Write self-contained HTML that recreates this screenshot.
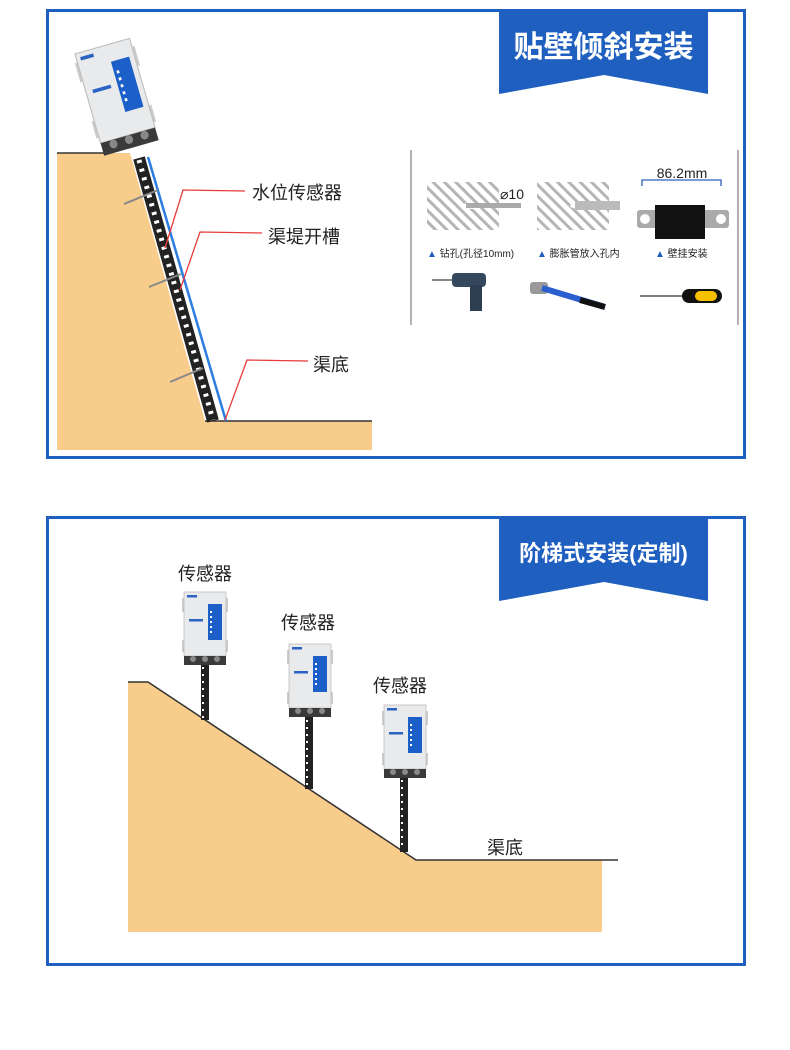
<!DOCTYPE html>
<html><head><meta charset="utf-8"><style>
html,body{margin:0;padding:0;background:#fff;}
svg{display:block;}
text{font-family:"Liberation Sans","Noto Sans CJK SC",sans-serif;}
</style></head><body>
<svg width="790" height="1050" viewBox="0 0 790 1050" xmlns="http://www.w3.org/2000/svg">
<defs>
<pattern id="hatch" width="8" height="8" patternUnits="userSpaceOnUse" patternTransform="rotate(-45)">
<rect width="8" height="8" fill="#fff"/><rect width="3" height="8" fill="#b5b5b5"/>
</pattern>
<g id="dev">
<rect x="-2" y="6" width="3" height="14" fill="#ccc"/><rect x="-2" y="48" width="3" height="12" fill="#ccc"/>
<rect x="41" y="6" width="3" height="14" fill="#ccc"/><rect x="41" y="48" width="3" height="12" fill="#ccc"/>
<rect x="0" y="0" width="42" height="64" fill="#e9eaeb" stroke="#bdbdbd" stroke-width="0.8"/>
<rect x="3" y="3" width="10" height="2.5" fill="#2a63c4"/>
<rect x="24" y="12" width="14" height="36" fill="#1c5fc9"/>
<rect x="26" y="19" width="2" height="2" fill="#fff"/><rect x="26" y="24" width="2" height="2" fill="#fff"/>
<rect x="26" y="29" width="2" height="2" fill="#fff"/><rect x="26" y="34" width="2" height="2" fill="#fff"/>
<rect x="26" y="39" width="2" height="2" fill="#fff"/>
<rect x="5" y="27" width="14" height="2.5" fill="#2a63c4"/>
<rect x="0" y="64" width="42" height="9" fill="#3a3a3a"/>
<circle cx="9" cy="67" r="3" fill="#888"/><circle cx="21" cy="67" r="3" fill="#888"/><circle cx="33" cy="67" r="3" fill="#888"/>
</g>
</defs>

<!-- Panel 1 -->
<rect x="47.5" y="10.5" width="697" height="447" fill="#fff" stroke="#1f5fbf" stroke-width="3"/>
<polygon points="57,153 130,153 205,421 372,421 372,450 57,450" fill="#f8cd8c"/>
<line x1="57" y1="153" x2="110" y2="153" stroke="#333" stroke-width="1.5"/>
<line x1="205" y1="421" x2="372" y2="421" stroke="#333" stroke-width="1.5"/>
<line x1="139" y1="158" x2="213" y2="421" stroke="#222" stroke-width="12"/>
<line x1="139" y1="160" x2="213" y2="420" stroke="#fff" stroke-width="5" stroke-dasharray="3 6"/>
<line x1="148" y1="157" x2="226" y2="421" stroke="#2b7de0" stroke-width="2.5"/>
<line x1="124" y1="204" x2="158" y2="190" stroke="#888" stroke-width="2"/>
<line x1="149" y1="287" x2="181" y2="274" stroke="#888" stroke-width="2"/>
<line x1="170" y1="382" x2="203" y2="368" stroke="#888" stroke-width="2"/>
<g transform="translate(75,54) rotate(-16) scale(1.35,1.45)"><use href="#dev"/></g>
<polyline points="165,248 183,190 245,191" fill="none" stroke="#e83b3b" stroke-width="1.3"/>
<polyline points="180,290 200,232 262,233" fill="none" stroke="#e83b3b" stroke-width="1.3"/>
<polyline points="225,420 247,360 308,361" fill="none" stroke="#e83b3b" stroke-width="1.3"/>
<text x="252" y="199" font-size="18" fill="#222">水位传感器</text>
<text x="268" y="243" font-size="18" fill="#222">渠堤开槽</text>
<text x="313" y="371" font-size="18" fill="#222">渠底</text>
<polygon points="499,10 708,10 708,94 604,75 499,94" fill="#1f5fbf"/>
<text x="603.5" y="57" font-size="30" font-weight="bold" fill="#fff" text-anchor="middle">贴壁倾斜安装</text>

<line x1="411" y1="150" x2="411" y2="325" stroke="#999" stroke-width="1.5"/>
<line x1="738" y1="150" x2="738" y2="325" stroke="#999" stroke-width="1.5"/>
<rect x="427" y="182" width="72" height="48" fill="url(#hatch)"/>
<rect x="537" y="182" width="72" height="48" fill="url(#hatch)"/>
<ellipse cx="472" cy="206" rx="12" ry="3" fill="#fff"/>
<rect x="466" y="203" width="55" height="5" fill="#aaa"/>
<text x="500" y="199" font-size="14" fill="#222">⌀10</text>
<ellipse cx="582" cy="206" rx="12" ry="3" fill="#fff"/>
<rect x="575" y="201" width="45" height="9" fill="#bbb"/>
<polyline points="642,186 642,180 721,180 721,186" fill="none" stroke="#2c5fbf" stroke-width="1.3"/>
<text x="682" y="178" font-size="14" fill="#222" text-anchor="middle">86.2mm</text>
<rect x="637" y="210" width="92" height="18" rx="3" fill="#aaa"/>
<circle cx="645" cy="219" r="5" fill="#fff"/><circle cx="721" cy="219" r="5" fill="#fff"/>
<rect x="655" y="205" width="50" height="34" fill="#111"/>
<text x="427" y="257" font-size="10" fill="#222"><tspan fill="#1f5fbf">▲</tspan> 钻孔(孔径10mm)</text>
<text x="537" y="257" font-size="10" fill="#222"><tspan fill="#1f5fbf">▲</tspan> 膨胀管放入孔内</text>
<text x="655" y="257" font-size="10" fill="#222"><tspan fill="#1f5fbf">▲</tspan> 壁挂安装</text>
<line x1="432" y1="280" x2="455" y2="280" stroke="#888" stroke-width="2"/>
<rect x="452" y="273" width="34" height="14" rx="4" fill="#34495e"/>
<rect x="470" y="285" width="12" height="26" fill="#2c3e50"/>
<rect x="530" y="282" width="18" height="12" rx="3" fill="#999"/>
<line x1="542" y1="288" x2="605" y2="307" stroke="#2b5fd0" stroke-width="6"/>
<line x1="580" y1="300" x2="605" y2="307" stroke="#111" stroke-width="6"/>
<line x1="640" y1="296" x2="685" y2="296" stroke="#555" stroke-width="1.5"/>
<rect x="682" y="289" width="40" height="14" rx="7" fill="#111"/>
<rect x="695" y="291" width="22" height="10" rx="5" fill="#f5c000"/>

<!-- Panel 2 -->
<rect x="47.5" y="517.5" width="697" height="447" fill="#fff" stroke="#1f5fbf" stroke-width="3"/>
<polygon points="128,682 148,682 416,860 602,860 602,932 128,932" fill="#f8cd8c"/>
<polyline points="128,682 148,682 416,860 618,860" fill="none" stroke="#333" stroke-width="1.5"/>
<line x1="205" y1="665" x2="205" y2="720" stroke="#222" stroke-width="8"/>
<line x1="203" y1="667" x2="203" y2="718" stroke="#fff" stroke-width="2" stroke-dasharray="2 5"/>
<line x1="309" y1="717" x2="309" y2="789" stroke="#222" stroke-width="8"/>
<line x1="307" y1="720" x2="307" y2="787" stroke="#fff" stroke-width="2" stroke-dasharray="2 5"/>
<line x1="404" y1="777" x2="404" y2="852" stroke="#222" stroke-width="8"/>
<line x1="402" y1="780" x2="402" y2="850" stroke="#fff" stroke-width="2" stroke-dasharray="2 5"/>
<g transform="translate(184,592)"><use href="#dev"/></g>
<g transform="translate(289,644)"><use href="#dev"/></g>
<g transform="translate(384,705)"><use href="#dev"/></g>
<text x="178" y="580" font-size="18" fill="#222">传感器</text>
<text x="281" y="629" font-size="18" fill="#222">传感器</text>
<text x="373" y="692" font-size="18" fill="#222">传感器</text>
<text x="487" y="854" font-size="18" fill="#222">渠底</text>
<polygon points="499,517 708,517 708,601 604,582 499,601" fill="#1f5fbf"/>
<text x="603.5" y="561" font-size="22" font-weight="bold" fill="#fff" text-anchor="middle">阶梯式安装(定制)</text>
</svg>
</body></html>
